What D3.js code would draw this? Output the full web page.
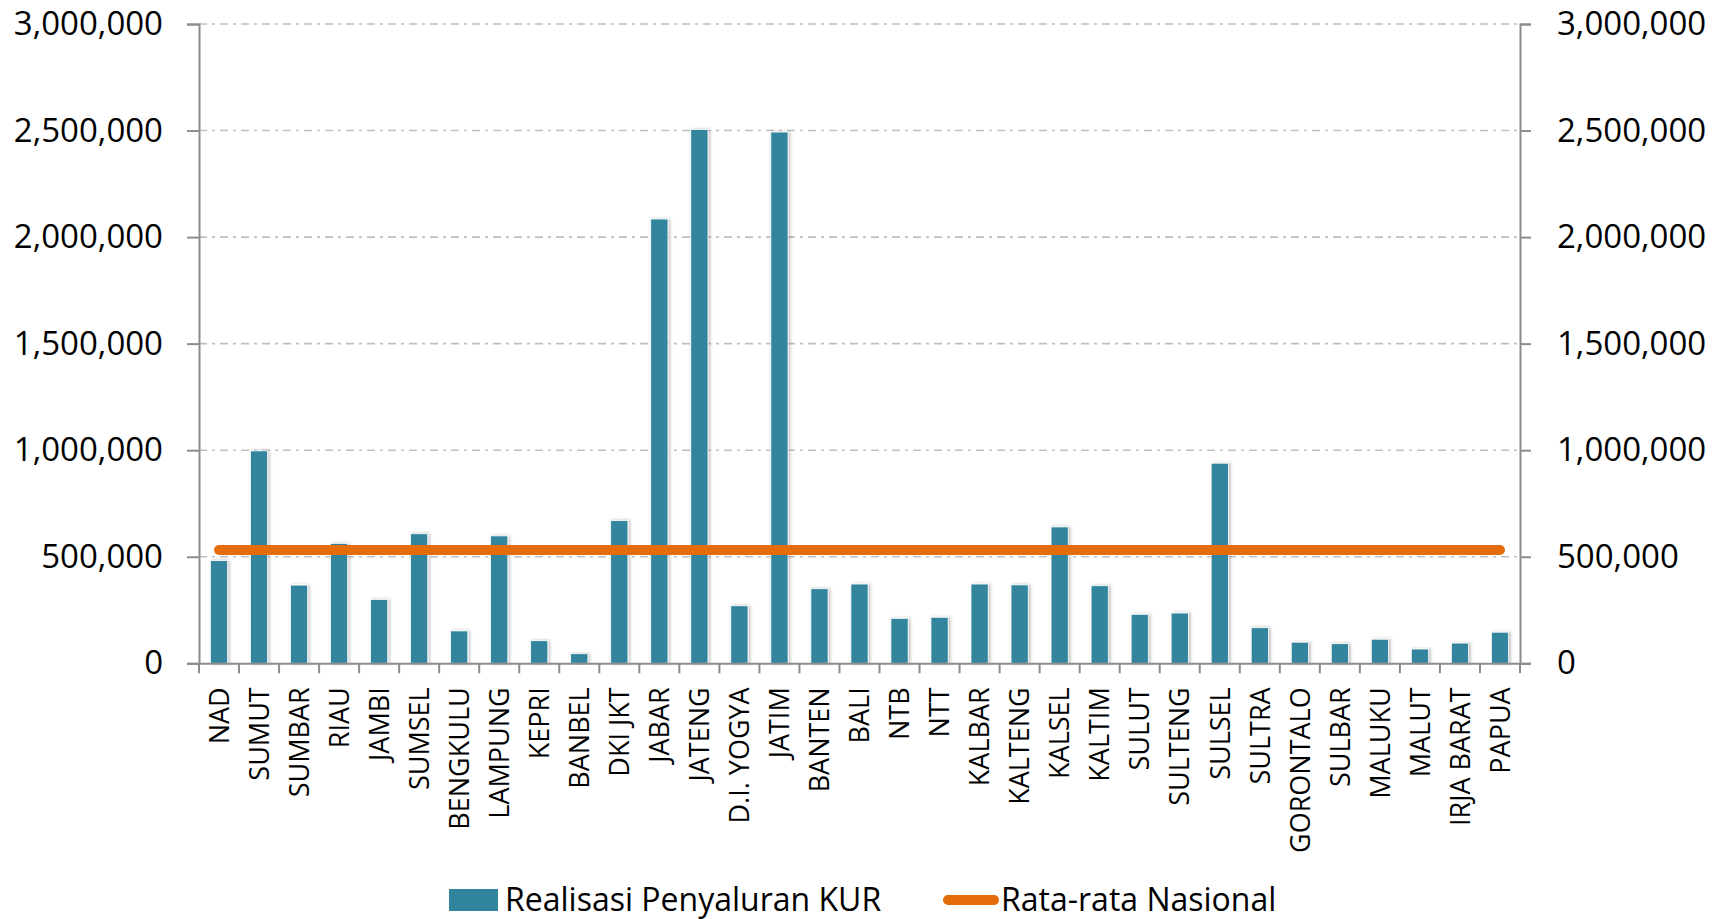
<!DOCTYPE html>
<html>
<head>
<meta charset="utf-8">
<script src="https://cdn.jsdelivr.net/npm/d3@7"></script>
<style>
  html, body { margin: 0; padding: 0; background: #ffffff; }
  svg { display: block; }
  text { font-family: "Open Sans", "Noto Sans", sans-serif; fill: #000; }
</style>
</head>
<body>
<svg id="chart" width="1725" height="919"></svg>
<script>
// ---- data ----
const categories = ["NAD","SUMUT","SUMBAR","RIAU","JAMBI","SUMSEL","BENGKULU","LAMPUNG","KEPRI","BANBEL",
  "DKI JKT","JABAR","JATENG","D.I. YOGYA","JATIM","BANTEN","BALI","NTB","NTT","KALBAR",
  "KALTENG","KALSEL","KALTIM","SULUT","SULTENG","SULSEL","SULTRA","GORONTALO","SULBAR","MALUKU",
  "MALUT","IRJA BARAT","PAPUA"];
const realisasiKUR = [482000, 997000, 367000, 563000, 300000, 608000, 152000, 598000, 106000, 45000,
  670000, 2085000, 2505000, 270000, 2493000, 350000, 372000, 211000, 216000, 372000,
  368000, 640000, 364000, 230000, 236000, 939000, 167000, 99000, 92000, 113000,
  67000, 95000, 146000];
const rataRataNasional = categories.map(() => 532000);
const yTicks = [0, 500000, 1000000, 1500000, 2000000, 2500000, 3000000];
const seriesNames = ["Realisasi Penyaluran KUR", "Rata-rata Nasional"];

// ---- layout ----
const svg = d3.select("#chart");
const plotLeft = 199, plotRight = 1520, plotTop = 24, plotBottom = 663.3;
const barColor = "#31859c", lineColor = "#e46c0a";
const axisColor = "#8c8c8c", gridColor = "#bfbfbf";
const fmt = d3.format(",");

const x = d3.scaleBand().domain(categories).range([plotLeft, plotRight]).paddingInner(0.57).paddingOuter(0.285);
const y = d3.scaleLinear().domain([0, 3000000]).range([plotBottom, plotTop]);

const defs = svg.append("defs");
const f = defs.append("filter").attr("id", "shadow").attr("x", "-50%").attr("y", "-10%").attr("width", "200%").attr("height", "120%");
f.append("feDropShadow").attr("dx", 1.5).attr("dy", 0).attr("stdDeviation", 1.8).attr("flood-color", "#000").attr("flood-opacity", 0.28);

// gridlines
svg.append("g").selectAll("line").data(yTicks.filter(d => d > 0)).join("line")
  .attr("x1", plotLeft).attr("x2", plotRight)
  .attr("y1", d => y(d)).attr("y2", d => y(d))
  .attr("stroke", gridColor).attr("stroke-width", 1.6)
  .attr("stroke-dasharray", "8,5,3,5");

// bars
svg.append("g").selectAll("rect").data(categories).join("rect")
  .attr("x", d => x(d)).attr("width", x.bandwidth())
  .attr("y", (d, i) => y(realisasiKUR[i]))
  .attr("height", (d, i) => y(0) - y(realisasiKUR[i]))
  .attr("fill", barColor)
  .attr("stroke", "#ffffff").attr("stroke-width", 0.8)
  .attr("filter", "url(#shadow)");

// left axis
const yAxisL = d3.axisLeft(y).tickValues(yTicks).tickFormat(fmt).tickSize(12).tickPadding(24);
const gL = svg.append("g").attr("transform", `translate(${plotLeft},0)`).call(yAxisL);
// right axis
const yAxisR = d3.axisRight(y).tickValues(yTicks).tickFormat(fmt).tickSize(11).tickPadding(26);
const gR = svg.append("g").attr("transform", `translate(${plotRight},0)`).call(yAxisR);
[gL, gR].forEach(g => {
  g.select(".domain").attr("stroke", axisColor).attr("stroke-width", 2);
  g.selectAll(".tick line").attr("stroke", axisColor).attr("stroke-width", 2);
  g.selectAll(".tick text").attr("font-size", 33).attr("font-family", "'Open Sans', sans-serif").attr("fill", "#000");
});

// x axis
const xAxis = d3.axisBottom(x).tickSize(0).tickPadding(0);
const gX = svg.append("g").attr("transform", `translate(0,${plotBottom})`).call(xAxis);
gX.select(".domain").attr("stroke", axisColor).attr("stroke-width", 2);
// tick marks at band boundaries
const boundaries = d3.range(categories.length + 1).map(i => plotLeft + i * x.step());
gX.append("g").selectAll("line").data(boundaries).join("line")
  .attr("x1", d => d).attr("x2", d => d).attr("y1", 0).attr("y2", 10)
  .attr("stroke", axisColor).attr("stroke-width", 2);
gX.selectAll(".tick text")
  .attr("font-size", 27).attr("font-family", "'Open Sans', sans-serif").attr("fill", "#000")
  .attr("text-anchor", "end")
  .attr("transform", "rotate(-90)")
  .attr("x", -24).attr("y", 0).attr("dy", "0.36em");

// average line
const line = d3.line().x(d => d[0]).y(d => d[1]);
const pts = categories.map((c, i) => [x(c) + x.bandwidth() / 2, y(rataRataNasional[i])]);
svg.append("path").attr("d", line(pts))
  .attr("fill", "none").attr("stroke", lineColor).attr("stroke-width", 10).attr("stroke-linecap", "round");

// legend
const lg = svg.append("g");
const ly = 900;
lg.append("rect").attr("x", 449).attr("y", ly - 11).attr("width", 49).attr("height", 22).attr("fill", barColor);
lg.append("text").attr("x", 505).attr("y", ly).attr("dy", "0.35em").attr("font-size", 32).text(seriesNames[0]);
lg.append("line").attr("x1", 948).attr("x2", 994).attr("y1", ly).attr("y2", ly)
  .attr("stroke", lineColor).attr("stroke-width", 10).attr("stroke-linecap", "round");
lg.append("text").attr("x", 1001).attr("y", ly).attr("dy", "0.35em").attr("font-size", 32).text(seriesNames[1]);
</script>
</body>
</html>
